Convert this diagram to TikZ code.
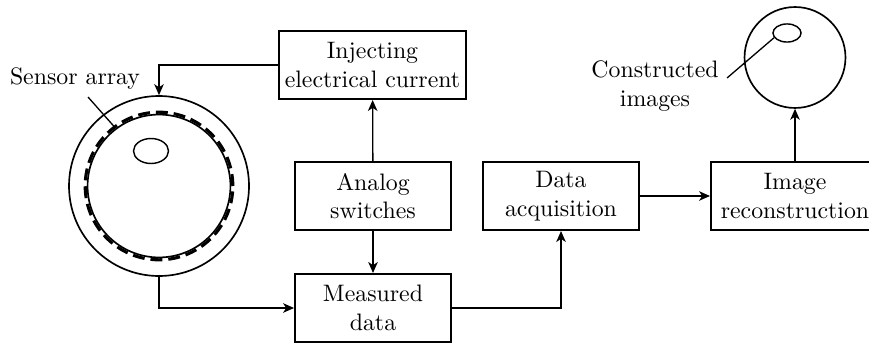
\documentclass[tikz,border=0pt]{standalone}
\usepackage{tikz}
\usetikzlibrary{shapes.geometric,arrows.meta,positioning}
\tikzset
{
  block/.style      = {rectangle, draw=black, line width=0.8pt, align=center, minimum width=65.5pt, minimum height=28.6pt, inner xsep=2pt},
  ring/.style       = {circle, draw=black, line width=0.7pt, inner sep=0pt},
  spotnode/.style   = {ellipse, draw=black, line width=0.6pt, inner sep=0pt},
  sensordash/.style = {line width=1.3pt, dash pattern=on 5pt off 2.5pt}
}

\begin{document}
\begin{tikzpicture}[->,>={Stealth[length=4.6pt,width=4pt,inset=1.3pt]},x=0.42pt,y=-0.42pt,line width=0.55pt]
  \useasboundingbox (0,0) rectangle (869,343);
  % sensor array
  \node [ring, minimum size=75.6pt] (sensor) at (159,186) {};
  \node [ring, minimum size=60pt] (inner) at (159,186) {};
  \draw [-,sensordash] (sensor.center) circle [radius=31pt];
  \node [spotnode, minimum width=14.7pt, minimum height=10.5pt] (obj) at (151,151) {};
  \node (sensorlbl) at (75,79) {Sensor array};
  \coordinate (sensortip) at (88,97);
  % blocks
  \node [block, minimum width=78.5pt] (inject) at (372.5,65) {Injecting\\electrical current};
  \node [block] (switch) at (373,196) {Analog\\switches};
  \node [block] (meas) at (373,308) {Measured\\data};
  \node [block] (daq) at (561,196) {Data\\acquisition};
  \node [block, minimum width=70.6pt] (recon) at (795,196) {Image\\reconstruction};
  % result
  \node [ring, minimum size=42.4pt] (result) at (795,57.5) {};
  \node [spotnode, minimum width=11.8pt, minimum height=7.6pt] (spot) at (787,33) {};
  \node [align=center] (resultlbl) at (655,86) {Constructed\\images};
  \coordinate (resulttip) at (727,78);
  % connections
  \draw (inject.west) -| (sensor.north);
  \draw (switch) -- (inject);
  \draw (switch) -- (meas);
  \draw (sensor.south) |- (meas.west);
  \draw (meas.east) -| (daq.south);
  \draw (daq) -- (recon);
  \draw (recon) -- (result);
  \draw [-] (sensortip) -- ([shift={(127:31pt)}]sensor.center);
  \draw [-] (spot.200) -- (resulttip);
\end{tikzpicture}
\end{document}
